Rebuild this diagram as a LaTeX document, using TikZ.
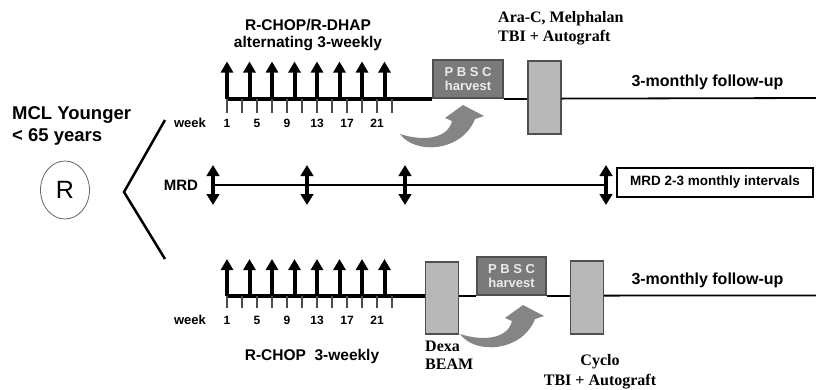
\documentclass[tikz,border=0pt]{standalone}
\usepackage{fontspec}
\setmainfont{Liberation Serif}
\setsansfont{Liberation Sans}
\usetikzlibrary{arrows.meta,shapes.geometric}

\definecolor{pbscgray}{HTML}{7A7A7A}
\definecolor{boxgray}{HTML}{B8B8B8}
\definecolor{arrowgray}{HTML}{858585}
\definecolor{edgegray}{HTML}{505050}

\tikzset{harvest arrow/.pic={
  \fill[arrowgray] (0,0) .. controls (15,21) and (62,18) .. (75,-15) -- (84,-18) -- (63,-29)
    -- (45,-16) -- (52,-13) .. controls (48,4) and (25,8) .. (0,0) -- cycle;
}}

\begin{document}
\begin{tikzpicture}[x=1pt,y=-1pt,
  lbl/.style 2 args={inner sep=0pt,font=\sffamily\bfseries\fontsize{#1}{#2}\selectfont},
  srf/.style 2 args={inner sep=0pt,font=\rmfamily\bfseries\fontsize{#1}{#2}\selectfont},
  chemo/.style={line width=4pt},
  follow/.style={line width=1.8pt},
  dose/.style={line width=4pt,-{Triangle[width=12pt,length=11pt]}},
  wtick/.style={line width=1.5pt,black!70},
  mrdarrow/.style={line width=3.5pt,{Triangle[width=12.5pt,length=11pt]}-{Triangle[width=12.5pt,length=11pt]}},
  graybox/.style={draw=edgegray,line width=1.2pt,fill=boxgray,minimum width=33pt,minimum height=73pt,inner sep=0pt},
  pbscbox/.style={draw=edgegray,line width=1.2pt,fill=pbscgray,minimum width=70pt,minimum height=38pt,
    inner sep=0pt,align=center,text=black!8,font=\sffamily\bfseries\fontsize{13}{14.5}\selectfont}]
\useasboundingbox (0,0) rectangle (816,389);

% left: patient group and randomisation
\node[lbl={18.5}{22},anchor=west,align=left] (mcl) at (12,126) {MCL Younger\\< 65 years};
\node[ellipse,draw=black!60,line width=0.8pt,minimum width=49pt,minimum height=58pt,inner sep=0pt,
  font=\sffamily\fontsize{25}{25}\selectfont] (rnd) at (65,190) {R};
\coordinate (br1) at (165,120);
\coordinate (br2) at (124,192);
\coordinate (br3) at (165,259);
\draw[line width=2.5pt] (br1) -- (br2) -- (br3);

% upper arm
\node[lbl={15.5}{17},align=center] (chop1) at (308,35) {R-CHOP/R-DHAP\\alternating 3-weekly};
\node[srf={16}{19},anchor=west,align=left] (ara) at (498,28.5) {Ara-C, Melphalan\\TBI + Autograft};
\node[pbscbox] (pbsc1) at (468,79) {P B S C\\harvest};
\node[graybox] (auto1) at (544.5,97.5) {};
\node[lbl={16}{18}] (fu1) at (707.5,82) {3-monthly follow-up};
\coordinate (top0) at (226,98.5);
\coordinate (top9) at (816,98);
\draw[chemo] (top0) -- (top0 -| pbsc1.west);
\draw[follow] (pbsc1.south east) -- (auto1.west |- pbsc1.south east);
\draw[follow] (auto1.east |- pbsc1.south east) -- (top9);
\foreach \w in {1,3,...,23}
  \draw[wtick] ({227+7.5*(\w-1)},98.5) -- ++(0,14);
\foreach \w in {1,4,...,22}
  \draw[dose] ({227+7.5*(\w-1)},98.5) -- ++(0,-37);
\node[lbl={13}{14}] (wk1) at (190,123) {week};
\foreach \w in {1,5,...,21}
  \node[lbl={12}{14}] (ta\w) at ({227+7.5*(\w-1)},123) {\w};
\pic at (400,134) {harvest arrow};

% MRD monitoring
\node[lbl={15}{17}] (mrd) at (181,185) {MRD};
\coordinate (m1) at (213,185);
\coordinate (m2) at (307,185);
\coordinate (m3) at (405,185);
\coordinate (m4) at (606,185);
\draw[line width=2pt] (m1) -- (m4);
\foreach \m in {m1,m2,m3,m4}
  \draw[mrdarrow] ([yshift=-20pt]\m) -- ([yshift=20pt]\m);
\node[draw,line width=1.2pt,minimum width=196pt,minimum height=29pt,lbl={13.5}{15}] (mrdbox) at (715,182.5)
  {MRD 2-3 monthly intervals};

% lower arm
\node[graybox,minimum height=72pt] (dexa) at (442,298) {};
\node[pbscbox,minimum width=69pt] (pbsc2) at (511.5,276) {P B S C\\harvest};
\node[graybox] (cyclo) at (587,297.5) {};
\node[lbl={16}{18}] (fu2) at (707.5,280) {3-monthly follow-up};
\coordinate (bot0) at (226,296);
\coordinate (bot9) at (816,295.5);
\draw[chemo] (bot0) -- (bot0 -| dexa.west);
\draw[follow] (dexa.east |- pbsc2.south) -- (pbsc2.south west);
\draw[follow] (pbsc2.south east) -- (cyclo.west |- pbsc2.south);
\draw[follow] (cyclo.east |- pbsc2.south) -- (bot9);
\foreach \w in {1,3,...,23}
  \draw[wtick] ({227+7.5*(\w-1)},296) -- ++(0,12);
\foreach \w in {1,4,...,22}
  \draw[dose] ({227+7.5*(\w-1)},296) -- ++(0,-37);
\node[lbl={13}{14}] (wk2) at (190,320) {week};
\foreach \w in {1,5,...,21}
  \node[lbl={12}{14}] (tb\w) at ({227+7.5*(\w-1)},320) {\w};
\pic at (460,334) {harvest arrow};
\node[lbl={15.5}{17}] (chop2) at (312,356) {R-CHOP\ \ 3-weekly};
\node[srf={16}{18},anchor=west,align=left] (beam) at (425,355) {Dexa\\BEAM};
\node[srf={16}{20},align=center] (tbi) at (600,372) {Cyclo\\TBI + Autograft};
\end{tikzpicture}
\end{document}
